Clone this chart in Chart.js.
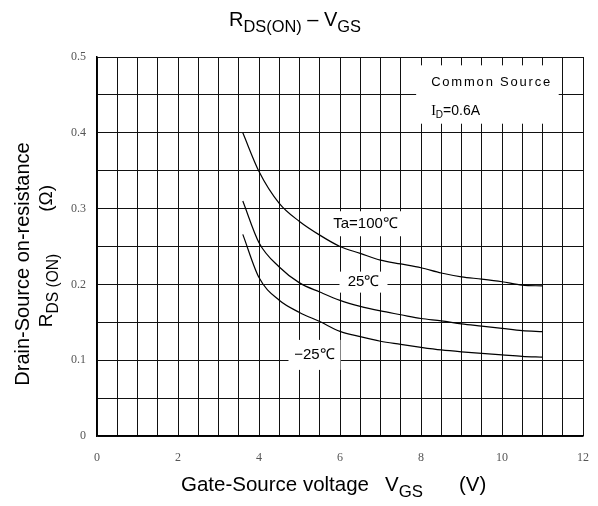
<!DOCTYPE html>
<html>
<head>
<meta charset="utf-8">
<script src="https://cdn.jsdelivr.net/npm/chart.js@4.4.1/dist/chart.umd.min.js"></script>
<style>
  html, body { margin: 0; padding: 0; background: #fff; }
  #wrap { width: 598px; height: 506px; position: relative; }
</style>
</head>
<body>
<div id="wrap"><canvas id="rdsChart" width="598" height="506"></canvas></div>
<script>
// Gate-source voltage points (V)
const vgs = [3.6, 4, 4.5, 5, 5.5, 6, 6.5, 7, 7.5, 8, 8.5, 9, 9.5, 10, 10.5, 11];
// Drain-source on-resistance (ohm) per ambient temperature
const rdsTa100 = [0.400, 0.349, 0.307, 0.283, 0.265, 0.250, 0.241, 0.232, 0.227, 0.222, 0.215, 0.210, 0.207, 0.2035, 0.199, 0.198];
const rdsTa25 = [0.310, 0.255, 0.223, 0.202, 0.190, 0.179, 0.171, 0.165, 0.160, 0.155, 0.152, 0.148, 0.145, 0.142, 0.139, 0.1376];
const rdsTaM25 = [0.266, 0.209, 0.179, 0.163, 0.151, 0.138, 0.131, 0.125, 0.121, 0.117, 0.1135, 0.111, 0.109, 0.107, 0.105, 0.104];

const xTickLabels = [0, 2, 4, 6, 8, 10, 12];
const yTickLabels = [0, 0.1, 0.2, 0.3, 0.4, 0.5];

// Curve labels, anchored in data coordinates
const curveLabels = [
    { text: 'Ta=100\u2103', x: 6.63, y: 0.280, w: 78, h: 25 },
    { text: '25\u2103', x: 6.58, y: 0.203, w: 48, h: 21 },
    { text: '\u221225\u2103', x: 5.37, y: 0.107, w: 52, h: 30 }
];

function toPoints(ys) {
    return vgs.map((v, i) => ({ x: v, y: ys[i] }));
}

function lineSet(label, ys) {
    return {
        label: label,
        data: toPoints(ys),
        borderColor: '#000',
        borderWidth: 1.2,
        pointRadius: 0,
        fill: false,
        cubicInterpolationMode: 'monotone'
    };
}

// draw text runs with subscripts; returns total width
function drawRuns(ctx, runs, x, y, size, measureOnly) {
    let cx = x;
    runs.forEach(r => {
        const fs = r.sub ? size * 0.82 : size;
        ctx.font = fs + 'px "Liberation Sans", Arial, sans-serif';
        if (!measureOnly) ctx.fillText(r.t, cx, y + (r.sub ? size * 0.3 : 0));
        cx += ctx.measureText(r.t).width + (r.gap || 0);
    });
    return cx - x;
}

const decorPlugin = {
    id: 'decor',
    afterDatasetsDraw(chart) {
        const ctx = chart.ctx;
        const xs = chart.scales.x, ys = chart.scales.y;
        ctx.save();
        ctx.textBaseline = 'middle';
        ctx.fillStyle = '#000';

        // curve labels on white boxes
        curveLabels.forEach(l => {
            const px = xs.getPixelForValue(l.x), py = ys.getPixelForValue(l.y);
            ctx.fillStyle = '#fff';
            ctx.fillRect(px - l.w / 2, py - l.h / 2, l.w, l.h);
            ctx.fillStyle = '#000';
            ctx.font = '15px "Liberation Sans", Arial, sans-serif';
            ctx.textAlign = 'center';
            ctx.fillText(l.text, px, py);
        });

        // condition box
        const bx = xs.getPixelForValue(7.88), by = ys.getPixelForValue(0.489);
        const bx2 = xs.getPixelForValue(11.4), by2 = ys.getPixelForValue(0.412);
        ctx.fillStyle = '#fff';
        ctx.fillRect(bx, by, bx2 - bx, by2 - by);
        ctx.fillStyle = '#000';
        ctx.textAlign = 'left';
        ctx.font = '13px "Liberation Sans", Arial, sans-serif';
        ctx.letterSpacing = '1.8px';
        ctx.fillText('Common Source', bx + 15, ys.getPixelForValue(0.467));
        ctx.letterSpacing = '0px';
        const iy = ys.getPixelForValue(0.428);
        ctx.font = '14px "Liberation Serif", serif';
        ctx.fillText('I', bx + 15, iy);
        let w = ctx.measureText('I').width;
        ctx.font = '10px "Liberation Sans", Arial, sans-serif';
        ctx.fillText('D', bx + 15 + w, iy + 4);
        w += ctx.measureText('D').width;
        ctx.font = '14px "Liberation Sans", Arial, sans-serif';
        ctx.fillText('=0.6A', bx + 15 + w, iy);

        ctx.restore();
    },
    afterDraw(chart) {
        const ctx = chart.ctx;
        ctx.save();
        ctx.fillStyle = '#000';
        ctx.textAlign = 'left';
        ctx.textBaseline = 'alphabetic';

        // title
        const titleRuns = [{ t: 'R' }, { t: 'DS(ON)', sub: true }, { t: ' \u2013 V' }, { t: 'GS', sub: true }];
        let tw = drawRuns(ctx, titleRuns, 0, 0, 20, true);
        drawRuns(ctx, titleRuns, 295 - tw / 2, 26, 20);

        // x axis title
        const xRuns = [{ t: 'Gate-Source voltage', gap: 16 }, { t: 'V' }, { t: 'GS', sub: true, gap: 36 }, { t: '(V)' }];
        drawRuns(ctx, xRuns, 181, 491, 20.5);

        // y axis title (rotated)
        ctx.save();
        ctx.translate(29, 264);
        ctx.rotate(-Math.PI / 2);
        ctx.font = '20px "Liberation Sans", Arial, sans-serif';
        ctx.textAlign = 'center';
        ctx.fillText('Drain-Source on-resistance', 0, 0);
        ctx.restore();

        ctx.save();
        const yRuns = [{ t: 'R' }, { t: 'DS (ON)', sub: true, gap: 42 }, { t: '(\u03A9)' }];
        tw = drawRuns(ctx, yRuns, 0, 0, 19, true);
        ctx.translate(52, 256);
        ctx.rotate(-Math.PI / 2);
        ctx.textAlign = 'left';
        drawRuns(ctx, yRuns, -tw / 2, 0, 19);
        ctx.restore();

        ctx.restore();
    }
};

const gridStyle = {
    color: '#111',
    lineWidth: 1,
    drawTicks: false
};

new Chart(document.getElementById('rdsChart').getContext('2d'), {
    type: 'line',
    data: {
        datasets: [
            lineSet('Ta=100\u2103', rdsTa100),
            lineSet('25\u2103', rdsTa25),
            lineSet('-25\u2103', rdsTaM25)
        ]
    },
    options: {
        responsive: false,
        animation: false,
        devicePixelRatio: 1,
        layout: { padding: { top: 57, right: 15, left: 0, bottom: 0 } },
        plugins: {
            legend: { display: false },
            title: { display: false },
            tooltip: { enabled: false }
        },
        scales: {
            x: {
                type: 'linear',
                min: 0,
                max: 12,
                afterFit: s => { s.height = 70; s.paddingLeft = 0; s.paddingRight = 0; },
                border: { color: '#000', width: 1.5 },
                grid: gridStyle,
                ticks: {
                    stepSize: 0.5,
                    autoSkip: false,
                    maxRotation: 0,
                    padding: 15,
                    color: '#555',
                    font: { family: '"Liberation Serif", "Times New Roman", serif', size: 12 },
                    callback: v => xTickLabels.includes(v) ? String(v) : ''
                }
            },
            y: {
                type: 'linear',
                min: 0,
                max: 0.5,
                afterFit: s => { s.width = 97; s.paddingTop = 0; s.paddingBottom = 0; },
                border: { color: '#000', width: 1.5 },
                grid: gridStyle,
                ticks: {
                    stepSize: 0.05,
                    autoSkip: false,
                    padding: 11,
                    color: '#555',
                    font: { family: '"Liberation Serif", "Times New Roman", serif', size: 12 },
                    callback: v => {
                        const r = Math.round(v * 100) / 100;
                        return yTickLabels.includes(r) ? String(r) : '';
                    }
                }
            }
        }
    },
    plugins: [decorPlugin]
});
</script>
</body>
</html>
